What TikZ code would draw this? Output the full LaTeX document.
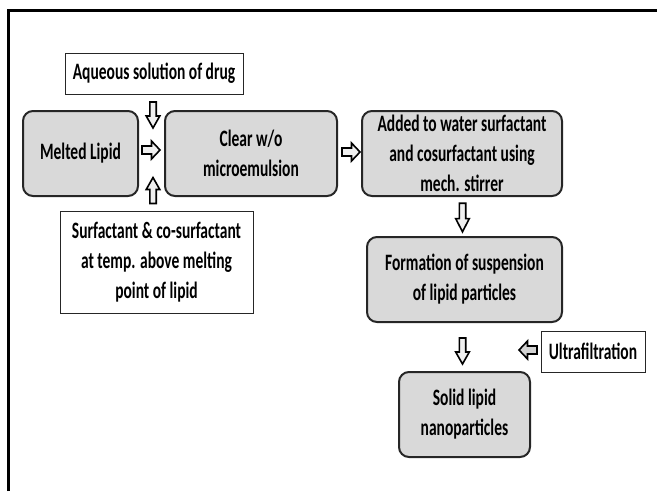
\documentclass[tikz,border=0pt]{standalone}
\usepackage{fontspec}
\setmainfont{Carlito}[FakeStretch=0.66]
\begin{document}
\begin{tikzpicture}[x=1pt,y=-1pt,
  every node/.style={font=\fontsize{23.5}{30}\selectfont\bfseries, text=black, align=center, inner sep=0pt},
  graybox/.style={draw=black!85, line width=2pt, rounded corners=10pt, fill=gray!30},
  whitebox/.style={draw=black!85, line width=0.9pt, fill=white},
  barrow/.style={draw=black, line width=1.6pt, fill=gray!12, line join=miter},
  pics/vblock/.style={code={\draw[barrow] (-3.2,-13) -- (3.2,-13) -- (3.2,1) -- (6.8,1) -- (0,13) -- (-6.8,1) -- (-3.2,1) -- cycle;}},
  pics/hblock/.style={code={\draw[barrow] (-9,-4) -- (0.5,-4) -- (0.5,-9) -- (9,0) -- (0.5,9) -- (0.5,4) -- (-9,4) -- cycle;}}
]
\useasboundingbox (0,0) rectangle (657,491);
% frame lines
\draw[line width=3pt] (8.5,491) -- (8.5,10.5) -- (657,10.5);

% nodes
\node[whitebox, minimum width=178, minimum height=41] (aq) at (154,73.5) {Aqueous solution of drug};
\node[graybox, minimum width=115, minimum height=85] (melt) at (80.5,153.5) {Melted Lipid};
\node[graybox, minimum width=172, minimum height=85] (clear) at (251,153.5) {Clear w/o\\microemulsion};
\node[graybox, minimum width=200, minimum height=85] (added) at (462,153.5) {Added to water surfactant\\and cosurfactant using\\mech. stirrer};
\node[whitebox, minimum width=193, minimum height=102] (surf) at (156.5,262) {Surfactant \& co-surfactant\\at temp. above melting\\point of lipid};
\node[graybox, minimum width=195, minimum height=85] (form) at (464.5,279.5) {Formation of suspension\\of lipid particles};
\node[graybox, minimum width=131, minimum height=85] (solid) at (464.5,414.5) {Solid lipid\\nanoparticles};
\node[whitebox, minimum width=104, minimum height=41] (ultra) at (593,351.5) {Ultrafiltration};

% block arrows
\pic at (153,115) {vblock};
\pic at (151,150) {hblock};
\pic[rotate=180] at (153,190.5) {vblock};
\pic at (351,152) {hblock};
\pic[yscale=1.1] at (462.5,217.5) {vblock};
\pic at (462.5,351) {vblock};
\pic[xscale=-1, barrow/.append style={fill=gray!35}] at (528,350) {hblock};
\end{tikzpicture}
\end{document}
